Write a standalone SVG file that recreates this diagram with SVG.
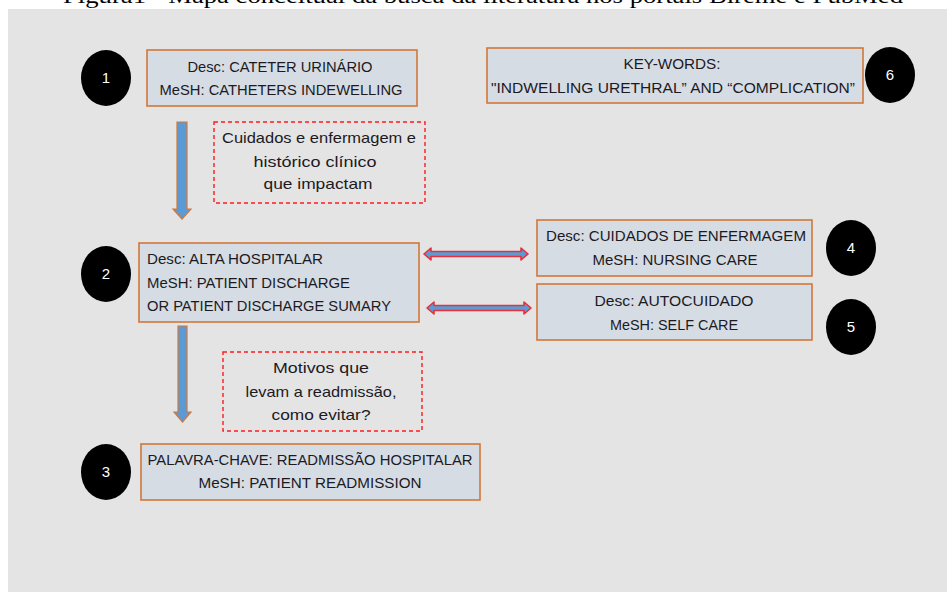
<svg xmlns="http://www.w3.org/2000/svg" width="947" height="592" viewBox="0 0 947 592">
<style>
.box{fill:#d6dce4;stroke:#d2773a;stroke-width:1.6}
.dash{fill:none;stroke:#ff1a1a;stroke-width:1.4;stroke-dasharray:4 3}
.t{font-family:"Liberation Sans",Arial,sans-serif;font-size:15px;fill:#1c1a1f}
.c{text-anchor:middle}
.dot{fill:#000}
.n{font-family:"Liberation Sans",Arial,sans-serif;font-size:15px;fill:#fff;text-anchor:middle}
.down{fill:#5b9bd5;stroke:#d2773a;stroke-width:1.2}
.dbl{fill:#5b9bd5;stroke:#e8303a;stroke-width:1.6;stroke-linejoin:round}
</style>
<rect x="0" y="0" width="947" height="592" fill="#ffffff"/>
<text x="63" y="3" font-family="'Liberation Serif','Times New Roman',serif" font-size="21" fill="#000" textLength="840" lengthAdjust="spacingAndGlyphs">Figura1 - Mapa conceitual da busca da literatura nos portais Bireme e PubMed</text>
<rect x="8" y="9" width="939" height="583" fill="#e4e4e4"/>

<g id="connectors">
<polygon class="down" points="177,122 187,122 187,209 191,209 182,219 173,209 177,209"/>
<polygon class="down" points="178,326 187,326 187,412 191,412 182.5,422 174,412 178,412"/>
<polygon class="dbl" points="424,254 431,248 431,251.5 521,251.5 521,248 528,254 521,260 521,256.5 431,256.5 431,260"/>
<polygon class="dbl" points="427,308 434,302 434,305.5 524,305.5 524,302 531,308 524,314 524,310.5 434,310.5 434,314"/>
</g>

<g id="node1">
<ellipse class="dot" cx="106" cy="78" rx="25" ry="28"/>
<text class="n" x="106" y="83">1</text>
<rect class="box" x="147" y="50" width="270" height="56"/>
<text class="t c" x="280" y="72" textLength="185" lengthAdjust="spacingAndGlyphs">Desc: CATETER URINÁRIO</text>
<text class="t c" x="281" y="95" textLength="243" lengthAdjust="spacingAndGlyphs">MeSH: CATHETERS INDEWELLING</text>
</g>

<g id="note1">
<rect class="dash" x="214" y="122" width="211" height="81"/>
<text class="t c" x="319" y="143" textLength="194" lengthAdjust="spacingAndGlyphs">Cuidados e enfermagem e</text>
<text class="t c" x="315" y="167" textLength="123" lengthAdjust="spacingAndGlyphs">histórico clínico</text>
<text class="t c" x="318" y="189" textLength="109" lengthAdjust="spacingAndGlyphs">que impactam</text>
</g>

<g id="node6">
<rect class="box" x="487" y="48" width="376" height="55"/>
<text class="t c" x="672" y="69" textLength="97" lengthAdjust="spacingAndGlyphs">KEY-WORDS:</text>
<text class="t c" x="673" y="93" textLength="364" lengthAdjust="spacingAndGlyphs">"INDWELLING URETHRAL” AND “COMPLICATION”</text>
<ellipse class="dot" cx="890" cy="75" rx="25" ry="28"/>
<text class="n" x="890" y="80">6</text>
</g>

<g id="node2">
<ellipse class="dot" cx="106" cy="274" rx="25" ry="28"/>
<text class="n" x="106" y="279">2</text>
<rect class="box" x="139" y="243" width="280" height="79"/>
<text class="t" x="147" y="264" textLength="176" lengthAdjust="spacingAndGlyphs">Desc: ALTA HOSPITALAR</text>
<text class="t" x="147" y="288" textLength="203" lengthAdjust="spacingAndGlyphs">MeSH: PATIENT DISCHARGE</text>
<text class="t" x="147" y="311" textLength="244" lengthAdjust="spacingAndGlyphs">OR PATIENT DISCHARGE SUMARY</text>
</g>

<g id="node4">
<rect class="box" x="537" y="220" width="275" height="56"/>
<text class="t c" x="676" y="241" textLength="260" lengthAdjust="spacingAndGlyphs">Desc: CUIDADOS DE ENFERMAGEM</text>
<text class="t c" x="675" y="265" textLength="165" lengthAdjust="spacingAndGlyphs">MeSH: NURSING CARE</text>
<ellipse class="dot" cx="851" cy="248" rx="25" ry="28"/>
<text class="n" x="851" y="253">4</text>
</g>

<g id="node5">
<rect class="box" x="537" y="284" width="275" height="56"/>
<text class="t c" x="674" y="306" textLength="159" lengthAdjust="spacingAndGlyphs">Desc: AUTOCUIDADO</text>
<text class="t c" x="674" y="330" textLength="128" lengthAdjust="spacingAndGlyphs">MeSH: SELF CARE</text>
<ellipse class="dot" cx="851" cy="327" rx="25" ry="28"/>
<text class="n" x="851" y="332">5</text>
</g>

<g id="note2">
<rect class="dash" x="223" y="352" width="199" height="79"/>
<text class="t c" x="321" y="373" textLength="96" lengthAdjust="spacingAndGlyphs">Motivos que</text>
<text class="t c" x="321" y="397" textLength="151" lengthAdjust="spacingAndGlyphs">levam a readmissão,</text>
<text class="t c" x="321" y="420" textLength="99" lengthAdjust="spacingAndGlyphs">como evitar?</text>
</g>

<g id="node3">
<ellipse class="dot" cx="106" cy="472" rx="25" ry="28"/>
<text class="n" x="106" y="477">3</text>
<rect class="box" x="141" y="444" width="339" height="56"/>
<text class="t c" x="310" y="465" textLength="325" lengthAdjust="spacingAndGlyphs">PALAVRA-CHAVE: READMISSÃO HOSPITALAR</text>
<text class="t c" x="310" y="488" textLength="223" lengthAdjust="spacingAndGlyphs">MeSH: PATIENT READMISSION</text>
</g>
</svg>
